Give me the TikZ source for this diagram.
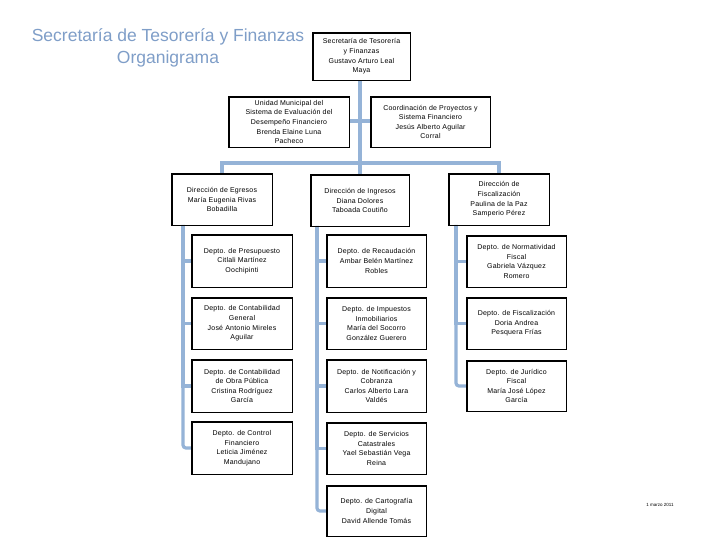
\documentclass[tikz,border=0pt]{standalone}
\usepackage{fontspec}
\setmainfont{Liberation Sans}
\newfontfamily\boxfont[LetterSpace=3]{Liberation Sans}
\definecolor{linec}{HTML}{95B3D7}
\definecolor{titlec}{HTML}{7F9EC8}
\begin{document}
\begin{tikzpicture}[x=1pt,y=-1pt,
  box/.style={draw=black,line width=0.6pt,fill=white,align=center,inner sep=1pt,
    font=\boxfont\fontsize{7}{9.6}\selectfont},
  conn/.style={draw=linec,line width=3.2pt}]
\useasboundingbox[fill=white] (0,0) rectangle (720,540);
% title
\node[text=titlec,font=\fontsize{17.5}{22}\selectfont,align=center] (title) at (168,48)
  {Secretaría de Tesorería y Finanzas\\Organigrama};
% coordinates for connectors
\coordinate (bar) at (360,163);
\coordinate (c1) at (183,225);
\coordinate (c2) at (317,226);
\coordinate (c3) at (456,225);
% connectors (drawn first)
\coordinate (topbot) at (360,80);
\coordinate (ingtop) at (360,175);
\draw[conn] (topbot) -- (ingtop);
\coordinate (ul) at (349,121);
\coordinate (cr) at (371,121);
\draw[conn] (ul) -- (cr);
\coordinate (egt) at (222,174);
\coordinate (fit) at (499,174);
\draw[conn] (egt) -- (egt |- bar) -- (fit |- bar) -- (fit);
% boxes
\node[box,minimum width=97,minimum height=47] (top) at (361.5,56.5)
  {Secretaría de Tesorería\\y Finanzas\\Gustavo Arturo Leal\\Maya};
\node[box,minimum width=120,minimum height=50] (unidad) at (289,122)
  {Unidad Municipal del\\Sistema de Evaluación del\\Desempeño Financiero\\Brenda Elaine Luna\\Pacheco};
\node[box,minimum width=119,minimum height=50] (coord) at (430.5,122)
  {Coordinación de Proyectos y\\Sistema Financiero\\Jesús Alberto Aguilar\\Corral};
\node[box,minimum width=100,minimum height=51] (egresos) at (222,199.5)
  {Dirección de Egresos\\María Eugenia Rivas\\Bobadilla};
\node[box,minimum width=98,minimum height=51] (ingresos) at (360,200.5)
  {Dirección de Ingresos\\Diana Dolores\\Taboada Coutiño};
\node[box,minimum width=100,minimum height=51] (fisc) at (499,199.5)
  {Dirección de\\Fiscalización\\Paulina de la Paz\\Samperio Pérez};
% column 1
\node[box,minimum width=100,minimum height=52] (presup) at (242,261)
  {Depto. de Presupuesto\\Citlali Martínez\\Oochipinti};
\node[box,minimum width=100,minimum height=51] (contgen) at (242,323.5)
  {Depto. de Contabilidad\\General\\José Antonio Mireles\\Aguilar};
\node[box,minimum width=100,minimum height=52] (obra) at (242,386)
  {Depto. de Contabilidad\\de Obra Pública\\Cristina Rodríguez\\García};
\node[box,minimum width=100,minimum height=52] (control) at (242,448)
  {Depto. de Control\\Financiero\\Leticia Jiménez\\Mandujano};
% column 2
\node[box,minimum width=99,minimum height=52] (recaud) at (376.5,261)
  {Depto. de Recaudación\\Ambar Belén Martínez\\Robles};
\node[box,minimum width=99,minimum height=51] (impuestos) at (376.5,323.5)
  {Depto. de Impuestos\\Inmobiliarios\\María del Socorro\\González Guerero};
\node[box,minimum width=99,minimum height=52] (notif) at (376.5,386)
  {Depto. de Notificación y\\Cobranza\\Carlos Alberto Lara\\Valdés};
\node[box,minimum width=99,minimum height=51] (servicios) at (376.5,448.5)
  {Depto. de Servicios\\Catastrales\\Yael Sebastián Vega\\Reina};
\node[box,minimum width=99,minimum height=50] (cartog) at (376.5,511)
  {Depto. de Cartografía\\Digital\\David Allende Tomás};
% column 3
\node[box,minimum width=99,minimum height=51] (normat) at (516.5,261.5)
  {Depto. de Normatividad\\Fiscal\\Gabriela Vázquez\\Romero};
\node[box,minimum width=99,minimum height=51] (fiscdep) at (516.5,323.5)
  {Depto. de Fiscalización\\Doria Andrea\\Pesquera Frías};
\node[box,minimum width=99,minimum height=50] (juridico) at (516.5,386)
  {Depto. de Jurídico\\Fiscal\\María José López\\García};
% column connectors
\draw[conn] (c1) |- (presup.west);
\draw[conn] (c1) |- (contgen.west);
\draw[conn] (c1) |- (obra.west);
\draw[conn,rounded corners=3pt] (c1) |- (control.west);
\draw[conn] (c2) |- (recaud.west);
\draw[conn] (c2) |- (impuestos.west);
\draw[conn] (c2) |- (notif.west);
\draw[conn] (c2) |- (servicios.west);
\draw[conn,rounded corners=3pt] (c2) |- (cartog.west);
\draw[conn] (c3) |- (normat.west);
\draw[conn] (c3) |- (fiscdep.west);
\draw[conn,rounded corners=3pt] (c3) |- (juridico.west);
% redraw box borders over line ends
\foreach \n in {egresos,ingresos,fisc,top,unidad,coord,presup,contgen,obra,control,recaud,impuestos,notif,servicios,cartog,normat,fiscdep,juridico}{\draw[line width=0.6pt] (\n.north west) rectangle (\n.south east);}
% date
\node[font=\fontsize{4.5}{5}\selectfont] (date) at (660,505) {1 marzo 2011};
\end{tikzpicture}
\end{document}
